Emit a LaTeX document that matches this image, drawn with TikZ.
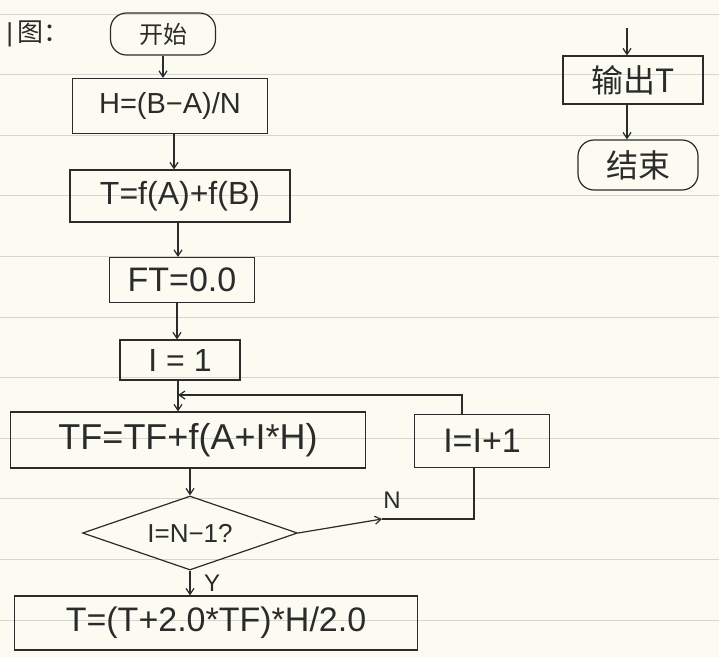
\documentclass[tikz,border=0pt]{standalone}
\usepackage{fontspec}
\setmainfont{Liberation Sans}
\newfontfamily\cjk{Noto Sans CJK SC}
\usetikzlibrary{arrows.meta,shapes.geometric}
\definecolor{ink}{HTML}{2B2B2B}
\definecolor{paper}{HTML}{FCFBF2}
\definecolor{rule}{HTML}{D6D6CE}
\newcommand{\fs}[1]{\fontsize{#1}{#1}\selectfont}
\tikzset{
  box/.style={draw=ink, line width=1.2pt, text=ink, inner sep=1pt, font=\fs{32}},
  term/.style={box, rounded corners=16pt},
  dec/.style={draw=ink, line width=1.2pt, text=ink, shape=diamond, aspect=2.9, inner sep=0pt, font=\fs{26}},
  arr/.style={draw=ink, line width=1.2pt, -{Straight Barb[length=6pt,width=8pt]}},
  ln/.style={draw=ink, line width=1.2pt},
  lbl/.style={text=ink, font=\fs{24}},
  paperline/.style={draw=rule, line width=1pt}
}
\begin{document}
\begin{tikzpicture}[x=1pt,y=-1pt]
\fill[paper] (0,0) rectangle (719,657);
\useasboundingbox (0,0) rectangle (719,657);
\foreach \k in {0,...,10} {\draw[paperline] (0,{14+60.6*\k}) -- (719,{14+60.6*\k});}
% title
\node[lbl, font=\fs{26}] (title) at (38,34) {|\,{\cjk 图：}};
% left column
\node[term, minimum width=105pt, minimum height=42pt, font=\fs{24}] (start) at (163,34) {\cjk 开始};
\node[box, minimum width=195pt, minimum height=55pt, font=\fs{29}] (h) at (170,106) {H=(B−A)/N};
\node[box, minimum width=220pt, minimum height=52pt] (t) at (180,196) {T=f(A)+f(B)};
\node[box, minimum width=145pt, minimum height=45pt, font=\fs{34}] (ft) at (182,280) {FT=0.0};
\node[box, minimum width=120pt, minimum height=40pt] (i1) at (180,360) {I = 1};
\node[box, minimum width=355pt, minimum height=56pt, font=\fs{36}] (tf) at (188,440) {TF=TF+f(A+I*H)};
\node[dec, minimum width=215pt, minimum height=74pt] (q) at (190,533) {I=N−1?};
\node[box, minimum width=403pt, minimum height=54pt, font=\fs{34}] (res) at (216,623) {T=(T+2.0*TF)*H/2.0};
\node[box, minimum width=135pt, minimum height=53pt, font=\fs{34}] (inc) at (482,441) {I=I+1};
% right column
\coordinate (top) at (627,28);
\node[box, minimum width=140pt, minimum height=48pt] (out) at (633,80) {\cjk 输出T};
\node[term, minimum width=120pt, minimum height=50pt] (end) at (638,165) {\cjk 结束};
% connectors
\draw[arr] (start.south) -- (start.south |- h.north);
\draw[arr] (h.south -| 174,0) -- (t.north -| 174,0);
\draw[arr] (t.south -| 178,0) -- (ft.north -| 178,0);
\draw[arr] (ft.south -| 177,0) -- (i1.north -| 177,0);
\coordinate (jn) at (178,395);
\draw[ln] (i1.south -| 178,0) -- (jn);
\draw[arr] (jn) -- (tf.north -| 178,0);
\draw[arr] (tf.south -| q.north) -- (q.north);
\draw[arr] ([xshift=-20pt]inc.north) |- (jn);
\coordinate (nmid) at (382,519);
\draw[arr] (q.east) -- (nmid);
\draw[ln] (nmid) -| ([xshift=-8pt]inc.south);
\node[lbl] (nl) at (392,500) {N};
\draw[arr] (q.south) -- (q.south |- res.north);
\node[lbl] (yl) at (212,583) {Y};
\draw[arr] (top) -- (top |- out.north);
\draw[arr] (out.south -| 627,0) -- (end.north -| 627,0);
\end{tikzpicture}
\end{document}
